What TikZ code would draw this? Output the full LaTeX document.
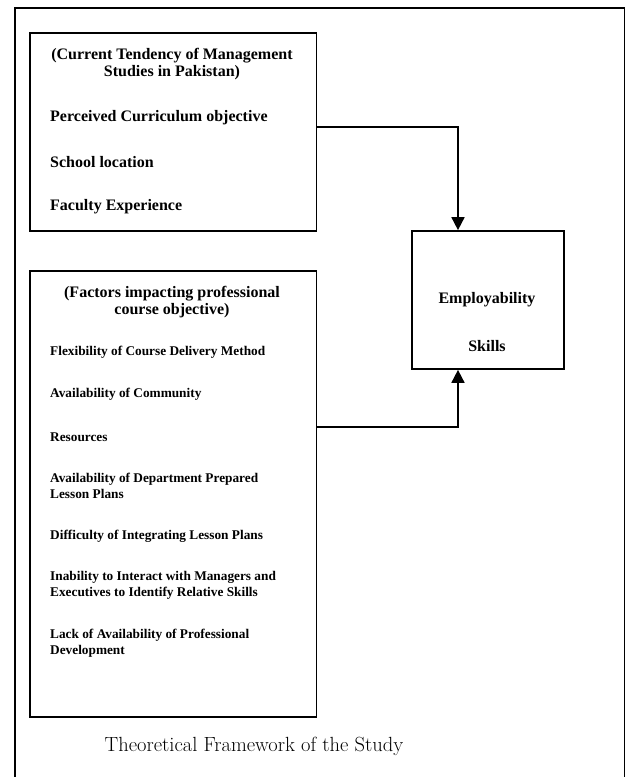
\documentclass[tikz,border=0pt]{standalone}
\usepackage{fontspec}
\newfontfamily\boxfont{Liberation Serif}
\usepackage{tikz}
\usetikzlibrary{shapes, arrows.meta, positioning, calc}

\begin{document}
\begin{tikzpicture}[x=1pt, y=-1pt,
  box/.style={draw, line width=1.7pt, inner sep=0pt},
  head/.style={font=\boxfont\bfseries\fontsize{16}{17}\selectfont, align=center, inner sep=0pt},
  item/.style={font=\boxfont\bfseries\fontsize{16}{18}\selectfont, anchor=west, align=left, inner sep=0pt},
  smallitem/.style={font=\boxfont\bfseries\fontsize{13.3}{16}\selectfont, anchor=west, align=left, inner sep=0pt},
  link/.style={line width=1.7pt, -{Triangle[length=13pt, width=13pt]}}]
  \useasboundingbox (0,0) rectangle (626,777);
  \draw[line width=1.4pt] (15,8) rectangle (624.5,790);

  % the three boxes
  \node[box, minimum width=286.5pt, minimum height=198pt] (tendency) at (173.25,132) {};
  \node[box, minimum width=286.5pt, minimum height=446pt] (factors) at (173.25,494) {};
  \node[box, minimum width=152pt, minimum height=138pt] (skills) at (488,300) {};

  % current tendency
  \node[head] (tendencyhead) at (172,64.5) {(Current Tendency of Management\\Studies in Pakistan)};
  \node[item] (curriculum) at (50,118) {Perceived Curriculum objective};
  \node[item] (location) at (50,162) {School location};
  \node[item] (experience) at (50,207) {Faculty Experience};

  % factors
  \node[head] (factorshead) at (172,302) {(Factors impacting professional\\course objective)};
  \node[smallitem] (delivery) at (50,352) {Flexibility of Course Delivery Method};
  \node[smallitem] (community) at (50,394) {Availability of Community};
  \node[smallitem] (resources) at (50,437) {Resources};
  \node[smallitem] (plans) at (50,486) {Availability of Department Prepared\\Lesson Plans};
  \node[smallitem] (integrating) at (50,536) {Difficulty of Integrating Lesson Plans};
  \node[smallitem] (interact) at (50,585) {Inability to Interact with Managers and\\Executives to Identify Relative Skills};
  \node[smallitem] (development) at (50,643) {Lack of Availability of Professional\\Development};

  % outcome
  \node[head] (employ) at (487,300) {Employability};
  \node[head] (skilltext) at (487,346) {Skills};

  \draw[link] ([yshift=5pt]tendency.east) -| ([xshift=-30pt]skills.north);
  \draw[link] ([yshift=67pt]factors.east) -| ([xshift=-30pt]skills.south);

  \node[font=\fontsize{20.5}{22}\selectfont, inner sep=0pt] (caption) at (254,746) {Theoretical Framework of the Study};
\end{tikzpicture}
\end{document}
